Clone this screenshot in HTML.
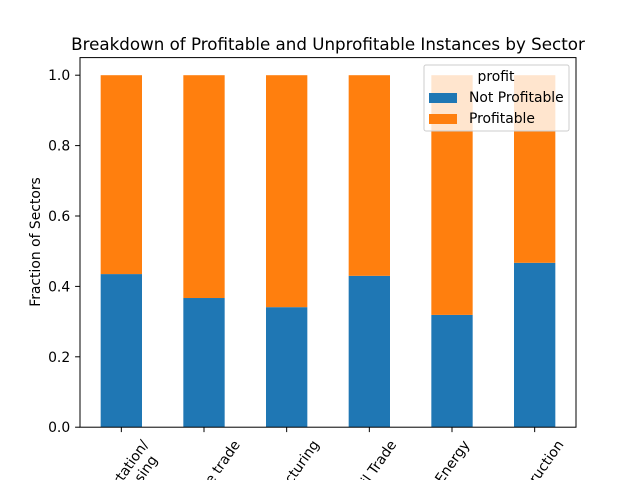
<!DOCTYPE html>
<html><head><meta charset="utf-8"><style>html,body{margin:0;background:#fff;overflow:hidden;width:640px;height:480px}svg{display:block;overflow:hidden;font-family:"DejaVu Sans","Liberation Sans",sans-serif}</style></head>
<body>
<svg id="chart" width="640" height="480" viewBox="0 0 640 480">
<rect width="640" height="480" fill="#fff"/>
<text x="328" y="50" font-size="16.7" text-anchor="middle">Breakdown of Profitable and Unprofitable Instances by Sector</text>
<g id="plot"></g>
<text transform="translate(40,242) rotate(-90)" font-size="13.9" text-anchor="middle">Fraction of Sectors</text>
</svg>
<script>
const categories = ["Transportation/\nWarehousing","Wholesale trade","Manufacturing","Retail Trade","Energy","Construction"];
const notProfitable = [0.435,0.367,0.341,0.430,0.319,0.467];
const yTicks = [0.0,0.2,0.4,0.6,0.8,1.0];
const tickLabels = ["0.0","0.2","0.4","0.6","0.8","1.0"];

const NS="http://www.w3.org/2000/svg";
const svg=document.getElementById('chart'), g=document.getElementById('plot');
const L=80,R=576,T=57.6,B=427.2,FS=13.9;
function xs(i){return L+(i+0.5)*(R-L)/categories.length;}
function ys(v){return B-v/1.05*(B-T);}
function mk(t,a,p){const e=document.createElementNS(NS,t);for(const k in a)e.setAttribute(k,a[k]);(p||g).appendChild(e);return e;}
const bw=0.5*(R-L)/categories.length;
categories.forEach((c,i)=>{
  const v=notProfitable[i];
  const b1=mk('rect',{x:xs(i)-bw/2,y:ys(v),width:bw,height:ys(0)-ys(v),fill:'#1f77b4'});
  
  
  const b2=mk('rect',{x:xs(i)-bw/2,y:ys(1),width:bw,height:ys(v)-ys(1),fill:'#ff7f0e'});
  
  
});
mk('rect',{x:L,y:T,width:R-L,height:B-T,fill:'none',stroke:'#000','stroke-width':1});
yTicks.forEach((v,i)=>{
  mk('line',{x1:L-4.9,x2:L,y1:ys(v),y2:ys(v),stroke:'#000','stroke-width':1});
  const t=mk('text',{x:L-9.8,y:ys(v)+5,'font-size':FS,'text-anchor':'end'});
  t.textContent=tickLabels[i];
  
  
});
categories.forEach((c,i)=>{
  const x=xs(i);
  mk('line',{x1:x,x2:x,y1:B,y2:B+4.9,stroke:'#000','stroke-width':1});
  const lines=c.split('\n');
  const t=mk('text',{'font-size':FS,'text-anchor':'middle'});
  
  
  lines.forEach((ln,j)=>{const s=mk('tspan',{x:0,dy:j?16:0},t);s.textContent=ln;});
  let w=0;for(const s of t.childNodes)w=Math.max(w,s.getComputedTextLength());
  const h=16*lines.length;
  const a=55*Math.PI/180;
  const bh=w*Math.sin(a)+h*Math.cos(a);
  const cy=B+9.8+bh/2;
  t.setAttribute('transform','translate('+x+','+cy+') rotate(-55) translate(0,'+(5-(lines.length-1)*8)+')');
});
// legend
const lg=mk('g',{});


mk('rect',{x:424,y:65,width:145,height:66,rx:2,fill:'#fff','fill-opacity':0.8,stroke:'#ccc','stroke-width':1},lg);
const lt=mk('text',{x:496,y:81,'font-size':FS,'text-anchor':'middle'},lg);lt.textContent='profit';
[['Not Profitable','#1f77b4',97],['Profitable','#ff7f0e',118]].forEach(([n,col,y])=>{
  const r=mk('rect',{x:429,y:y-4,width:28,height:10,fill:col},lg);
  
  
  const t=mk('text',{x:469,y:y+5,'font-size':FS},lg);t.textContent=n;
  
  
});
</script>
</body></html>
